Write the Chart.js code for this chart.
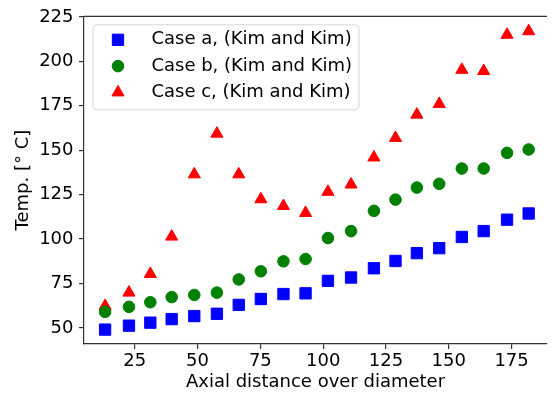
<!DOCTYPE html>
<html>
<head>
<meta charset="utf-8">
<script src="https://cdn.jsdelivr.net/npm/chart.js@4/dist/chart.umd.min.js"></script>
<style>
  html, body { margin: 0; padding: 0; background: #fff; }
  canvas { display: block; }
</style>
</head>
<body>
<canvas id="tempChartId" width="556" height="394"></canvas>
<script>
// axial distance over diameter, same positions for all three cases
const distances = [13.2, 22.7, 31.2, 39.7, 48.7, 57.7, 66.4, 75.2, 84.2, 93.0,
                   101.9, 111.1, 120.2, 128.8, 137.3, 146.2, 155.2, 163.9, 173.2, 181.8];
const caseA = [49.1, 51.3, 53.0, 55.0, 56.7, 58.0, 63.0, 66.3, 69.1, 69.5,
               76.5, 78.4, 83.6, 87.7, 92.1, 94.9, 101.2, 104.5, 110.9, 114.4];
const caseB = [59.1, 61.9, 64.5, 67.4, 68.6, 69.9, 77.3, 81.9, 87.5, 88.8,
               100.6, 104.5, 115.9, 122.2, 129.0, 131.1, 139.7, 139.7, 148.5, 150.4];
const caseC = [62.4, 69.9, 80.4, 101.4, 136.4, 159.3, 136.4, 122.4, 118.6, 114.7,
               126.6, 130.7, 145.9, 156.9, 170.0, 176.0, 195.2, 194.5, 214.9, 216.9];
const seriesLabels = ['Case a, (Kim and Kim)', 'Case b, (Kim and Kim)', 'Case c, (Kim and Kim)'];
const xTicks = [25, 50, 75, 100, 125, 150, 175];
const yTicks = [50, 75, 100, 125, 150, 175, 200, 225];

function toPoints(values) {
    return values.map((v, i) => ({ x: distances[i], y: v }));
}

Chart.defaults.font.family = '"DejaVu Sans", sans-serif';
Chart.defaults.font.size = 18;
Chart.defaults.color = '#000';

// top spine + matplotlib style legend box in the upper left
const frameAndLegend = {
    id: 'frameAndLegend',
    afterDatasetsDraw(chart) {
        const ctx = chart.ctx;
        const area = chart.chartArea;
        ctx.save();
        ctx.strokeStyle = '#333';
        ctx.lineWidth = 1.2;
        ctx.beginPath();
        ctx.moveTo(area.left, area.top);
        ctx.lineTo(area.right, area.top);
        ctx.stroke();

        const left = area.left + 9;
        const top = area.top + 8.5;
        ctx.beginPath();
        ctx.roundRect(left, top, 266, 85, 4);
        ctx.fillStyle = 'rgba(255,255,255,0.8)';
        ctx.fill();
        ctx.strokeStyle = '#d6d6d6';
        ctx.lineWidth = 1;
        ctx.stroke();

        chart.data.datasets.forEach((ds, i) => {
            const y = top + 15 + i * 26.3;
            ctx.fillStyle = ds.backgroundColor;
            ctx.strokeStyle = ds.borderColor;
            ctx.lineWidth = 1;
            Chart.helpers.drawPoint(ctx, {
                pointStyle: ds.pointStyle,
                radius: ds.pointRadius,
                rotation: 0,
                borderWidth: 1
            }, left + 25, y);
            ctx.fillStyle = '#000';
            ctx.font = '18px "DejaVu Sans"';
            ctx.textAlign = 'left';
            ctx.textBaseline = 'middle';
            ctx.fillText(ds.label, left + 58.4, y);
        });
        ctx.restore();
    }
};

const ctx = document.getElementById('tempChartId');

new Chart(ctx, {
    type: 'scatter',
    data: {
        datasets: [
            {
                label: seriesLabels[0],
                data: toPoints(caseA),
                pointStyle: 'rect',
                pointRadius: 8,
                backgroundColor: '#0000ff',
                borderColor: '#0000ff',
                borderWidth: 1
            },
            {
                label: seriesLabels[1],
                data: toPoints(caseB),
                pointStyle: 'circle',
                pointRadius: 5.8,
                backgroundColor: '#008000',
                borderColor: '#008000',
                borderWidth: 1
            },
            {
                label: seriesLabels[2],
                data: toPoints(caseC),
                pointStyle: 'triangle',
                pointRadius: 7,
                backgroundColor: '#ff0000',
                borderColor: '#ff0000',
                borderWidth: 1
            }
        ]
    },
    options: {
        responsive: false,
        animation: false,
        layout: { padding: { top: 14, left: 0, right: 0, bottom: 0 } },
        plugins: {
            legend: { display: false },
            tooltip: { enabled: false }
        },
        scales: {
            x: {
                type: 'linear',
                min: 4.8,
                max: 189.1,
                afterBuildTicks: axis => { axis.ticks = xTicks.map(v => ({ value: v })); },
                afterFit: axis => { axis.height = 50; },
                ticks: { padding: 2, maxRotation: 0, color: '#000' },
                grid: { drawOnChartArea: false, drawTicks: true, tickLength: 5, color: '#333', lineWidth: 1.2 },
                border: { display: true, color: '#333', width: 1.2 },
                title: {
                    display: true,
                    text: 'Axial distance over diameter',
                    padding: { top: 0, bottom: 1 },
                    color: '#000'
                }
            },
            y: {
                type: 'linear',
                min: 41.0,
                max: 225.3,
                afterBuildTicks: axis => { axis.ticks = yTicks.map(v => ({ value: v })); },
                afterFit: axis => { axis.width = 84; },
                ticks: { padding: 5.5, color: '#000' },
                grid: { drawOnChartArea: false, drawTicks: true, tickLength: 5, color: '#333', lineWidth: 1.2 },
                border: { display: true, color: '#333', width: 1.2 },
                title: {
                    display: true,
                    text: 'Temp. [° C]',
                    padding: { top: 12.5, bottom: 0 },
                    color: '#000'
                }
            }
        }
    },
    plugins: [frameAndLegend]
});
</script>
</body>
</html>
